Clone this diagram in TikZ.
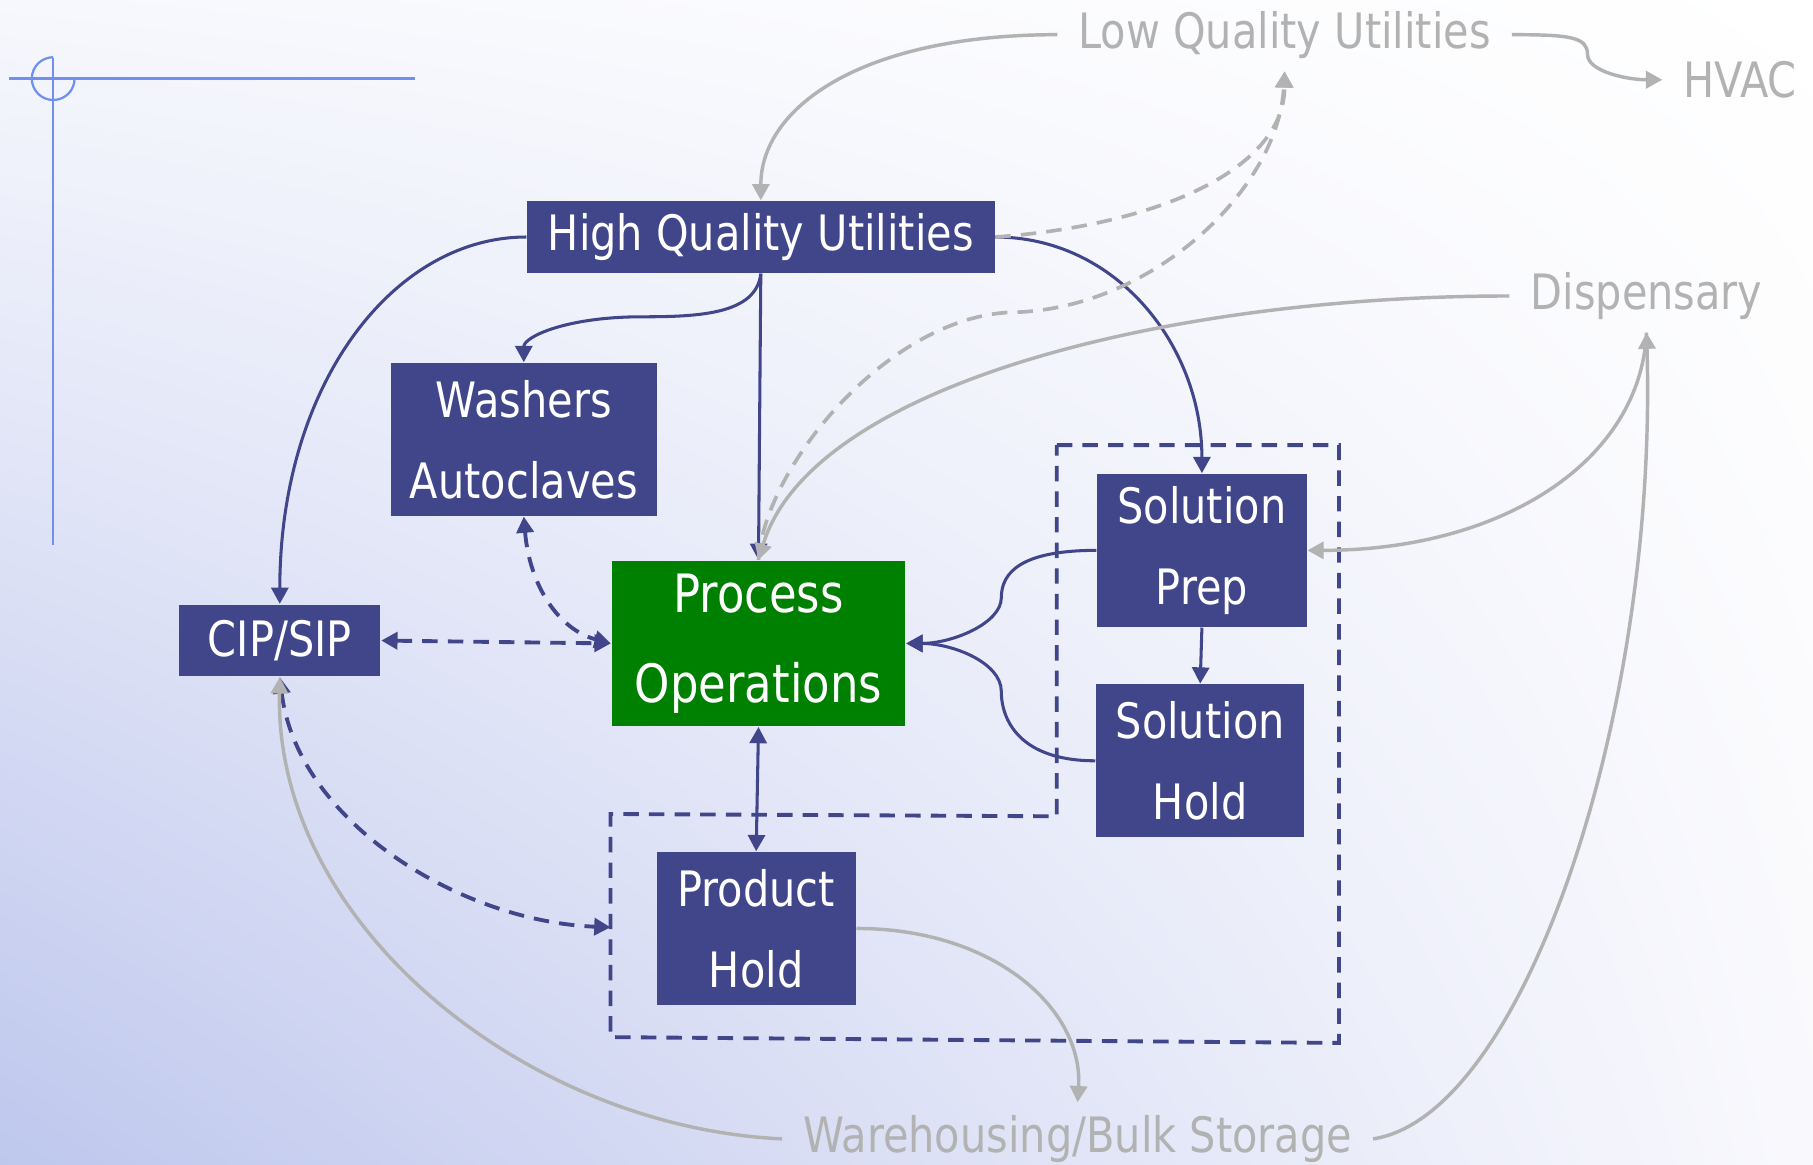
\documentclass[tikz,border=0pt]{standalone}
\usepackage{fontspec}
\setmainfont{DejaVu Sans}[FakeStretch=0.85]
\usetikzlibrary{arrows.meta,shadings}

\definecolor{boxblue}{RGB}{65,70,139}
\definecolor{opsgreen}{RGB}{0,128,0}
\definecolor{linegray}{RGB}{178,178,178}
\definecolor{guideblue}{RGB}{112,144,240}
\definecolor{bgtopleft}{RGB}{247,248,253}
\definecolor{bgbottomleft}{RGB}{190,199,237}
\definecolor{bgbottomright}{RGB}{249,249,253}

\tikzset{
  unit/.style={fill=boxblue, text=white, inner sep=0pt, align=center,
    font=\fontsize{12}{19.9}\selectfont},
  outside/.style={text=linegray, inner xsep=5pt, inner ysep=3pt,
    font=\fontsize{12}{14}\selectfont},
  flow/.style={draw=boxblue, line width=0.75pt},
  feed/.style={draw=linegray, line width=0.85pt},
  link/.style={draw=boxblue, line width=0.95pt, dash pattern=on 3.8pt off 2.5pt},
  spill/.style={draw=linegray, line width=0.9pt, dash pattern=on 3.8pt off 2.5pt},
}

\begin{document}
\begin{tikzpicture}[x=0.01cm, y=-0.01cm, >={Triangle[length=4pt,width=4.2pt]}]

  \useasboundingbox (0,0) rectangle (1568,1007);

  % Draw the background
  \shade[upper left=bgtopleft, upper right=white,
    lower left=bgbottomleft, lower right=bgbottomright] (0,0) rectangle (1568,1007);

  % Draw the corner guide
  \draw[guideblue, line width=0.55pt] (8,68) -- (359,68);
  \draw[guideblue, line width=0.55pt] (46,50) -- (46,471);
  \draw[guideblue, line width=0.55pt] (46,68) ++(18.5,0) arc (0:270:18.5);

  % Draw the zone round the holding units
  \draw[link] (914,385) -- (1158,385) -- (1158,902) -- (528,897)
    -- (528,704) -- (914,706) -- cycle;
  \coordinate (zonein) at (528,802);

  % Draw the units
  \node[unit, minimum width=4.04cm, minimum height=0.62cm] (hqu) at (658,205) {High Quality Utilities};
  \node[unit, minimum width=2.30cm, minimum height=1.32cm] (washers) at (453,380) {Washers\\Autoclaves};
  \node[unit, fill=opsgreen, minimum width=2.54cm, minimum height=1.43cm,
    font=\fontsize{13}{22.2}\selectfont] (procops) at (656,556.5) {Process\\Operations};
  \node[unit, minimum width=1.74cm, minimum height=0.62cm] (cip) at (242,554) {CIP/SIP};
  \node[unit, minimum width=1.81cm, minimum height=1.32cm] (solprep) at (1039.5,476) {Solution\\Prep};
  \node[unit, minimum width=1.80cm, minimum height=1.32cm] (solhold) at (1038,658) {Solution\\Hold};
  \node[unit, minimum width=1.72cm, minimum height=1.32cm] (prodhold) at (654,803) {Product\\Hold};

  % Draw the outside services
  \node[outside] (lqu) at (1111,30) {Low Quality Utilities};
  \node[outside] (hvac) at (1505,69) {HVAC};
  \node[outside] (disp) at (1424,256) {Dispensary};
  \node[outside] (wareh) at (932,985) {Warehousing/Bulk Storage};

  % Bend points
  \coordinate (wbend) at (555,274);
  \coordinate (pbend) at (866,517);
  \coordinate (hbend) at (866,598);
  \coordinate (hvbend) at (1373,47);
  \coordinate (sbend) at (880,270);

  % Draw the utility and process flows
  \draw[flow, ->] (hqu.west) .. controls +(-115,0) and +(0,-190) .. (cip.north);
  \draw[flow, ->] (hqu.south) .. controls +(-4,35) and +(50,0) .. (wbend)
    .. controls +(-65,0) and +(0,-22) .. (washers.north);
  \draw[flow, ->] (hqu.south) -- (procops.north);
  \draw[flow, ->] (hqu.east) .. controls +(105,0) and +(0,-110) .. (solprep.north);
  \draw[flow, ->] (solprep.west) .. controls +(-65,0) and +(0,-22) .. (pbend)
    .. controls +(0,22) and +(40,0) .. (procops.east);
  \draw[flow, ->] (solhold.west) .. controls +(-65,0) and +(0,25) .. (hbend)
    .. controls +(0,-25) and +(40,0) .. (procops.east);
  \draw[flow, ->] (solprep.south) -- (solhold.north);
  \draw[flow, <->] (procops.south) -- (prodhold.north);

  % Draw the cleaning links
  \draw[link, <->] (cip.east) -- (procops.west);
  \draw[link, <->] (washers.south) .. controls +(5,60) and +(-45,-12) .. (procops.west);
  \draw[link, <->] (cip.south) .. controls +(15,125) and +(-130,-5) .. (zonein);

  % Draw the links to the outside services
  \draw[feed, ->] (lqu.west) .. controls +(-170,0) and +(0,-80) .. (hqu.north);
  \draw[feed, ->] (lqu.east) .. controls +(50,0) and +(0,-15) .. (hvbend)
    .. controls +(0,15) and +(-30,0) .. (hvac.west);
  \draw[spill, ->] (hqu.east) .. controls +(140,-10) and +(0,85) .. (lqu.south);
  \draw[spill, ->] (procops.north) .. controls +(5,-80) and +(-110,0) .. (sbend)
    .. controls +(120,-5) and +(-5,100) .. (lqu.south);
  \draw[feed, ->] (disp.west) .. controls +(-300,0) and +(45,-150) .. (procops.north);
  \draw[feed, ->] (disp.south) .. controls +(-5,110) and +(170,0) .. (solprep.east);
  \draw[feed, ->] (wareh.east) .. controls +(130,-20) and +(10,330) .. (disp.south);
  \draw[feed, ->] (prodhold.east) .. controls +(120,0) and +(5,-80) .. (wareh.north);
  \draw[feed, ->] (wareh.west) .. controls +(-220,-10) and +(-5,215) .. (cip.south);

\end{tikzpicture}
\end{document}
